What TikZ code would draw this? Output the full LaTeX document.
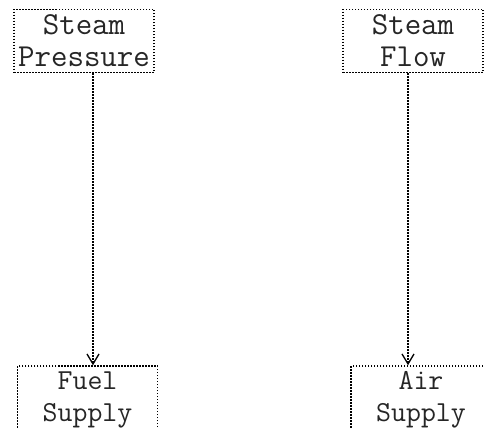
\documentclass[tikz,border=0pt]{standalone}
\usetikzlibrary{arrows.meta}
\tikzset{
  dots/.style={line width=1.5pt, dash pattern=on 1.5pt off 1.5pt},
  box/.style={draw, dots, minimum width=140pt, minimum height=63pt,
    inner sep=0pt, align=center, text=black!85},
  bigtext/.style={font=\ttfamily\fontsize{32}{32}\selectfont},
  smalltext/.style={font=\ttfamily\fontsize{29}{32}\selectfont, minimum height=68pt}
}
\begin{document}
\begin{tikzpicture}[x=1pt,y=-1pt]
      \useasboundingbox (0,0) rectangle (484,428);
      \draw
        (84,41) node[box,bigtext] (pressure){Steam\\Pressure}
        (413,41) node[box,bigtext] (flow){Steam\\Flow}
        (87.5,400) node[box,smalltext] (fuel){Fuel\\Supply}
        (421,400) node[box,smalltext] (air){Air\\Supply};
      \begin{scope}[-{Straight Barb[length=10pt,width=12pt,line width=1.3pt]}, dots]
        \draw ([xshift=9pt]pressure.south) to ([xshift=5.5pt]fuel.north);
        \draw ([xshift=-5pt]flow.south) to ([xshift=-13pt]air.north);
      \end{scope}
    \end{tikzpicture}
\end{document}
